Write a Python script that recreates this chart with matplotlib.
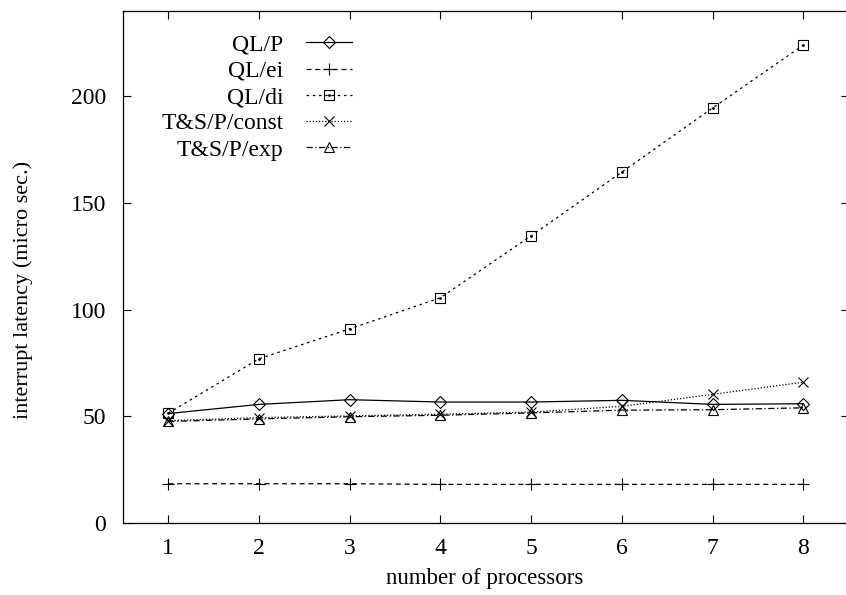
import matplotlib
matplotlib.use("Agg")
import matplotlib.pyplot as plt

plt.rcParams['font.family'] = ['Liberation Serif', 'DejaVu Serif']

procs = [1, 2, 3, 4, 5, 6, 7, 8]
ql_p = [51.3, 55.6, 57.8, 56.7, 56.7, 57.5, 55.6, 55.9]
ql_ei = [18.4, 18.4, 18.4, 18.1, 18.1, 18.1, 18.1, 18.1]
ql_di = [51.5, 77.0, 91.0, 105.6, 134.6, 164.5, 194.5, 224.0]
ts_const = [48.0, 49.4, 50.2, 51.0, 52.0, 54.7, 60.3, 66.0]
ts_exp = [47.6, 48.8, 49.8, 50.5, 51.6, 52.9, 53.1, 54.0]

series = [
    ("QL/P", ql_p, '-', 'D', 6),
    ("QL/ei", ql_ei, (0, (4, 3)), '+', 9),
    ("QL/di", ql_di, (0, (2, 3)), 's', 7.5),
    ("T&S/P/const", ts_const, (0, (1, 1.5)), 'x', 7.5),
    ("T&S/P/exp", ts_exp, (0, (5, 2, 1, 2)), '^', 7),
]

fig = plt.figure(figsize=(8.46, 5.95), dpi=100)
# the frame runs past the right edge of the figure
ax_w = 725.6
ax_h = 512
ax = fig.add_axes([123 / 846, 72 / 595, ax_w / 846, ax_h / 595])

handles = []
for name, vals, ls, mk, ms in series:
    line, = ax.plot(procs, vals, color='black', lw=0.9, linestyle=ls,
                    marker=mk, markersize=ms, markerfacecolor='none',
                    markeredgecolor='black', markeredgewidth=0.8)
    if mk == 's':
        # gnuplot style box with a dot in the middle
        dot, = ax.plot(procs, vals, linestyle='none', marker='.',
                       markersize=2, color='black')
        handles.append(((line, dot), name))
    else:
        handles.append((line, name))

ax.set_xlim(0.5, 8.5)
ax.set_ylim(0, 240)
ax.set_xticks(procs)
ax.set_yticks([0, 50, 100, 150, 200])
ax.tick_params(direction='in', length=6, width=0.8, top=True, right=True,
               labelsize=17)
ax.tick_params(axis='x', pad=11)
ax.tick_params(axis='y', pad=12)
for sp in ax.spines.values():
    sp.set_linewidth(0.9)

ax.set_xlabel("number of processors", fontsize=16.5)
ax.set_ylabel("interrupt latency (micro sec.)", fontsize=16)
# centre the x label under the visible part of the frame
ax.xaxis.set_label_coords((846 - 123) / 2 / ax_w, -45 / ax_h)
ax.yaxis.set_label_coords(-90 / ax_w, (523 - 290) / ax_h)

ax.legend([h for h, _ in handles], [n for _, n in handles],
          loc='upper right', bbox_to_anchor=(352 / 846, 1 - 34 / 595),
          bbox_transform=fig.transFigure, frameon=False, markerfirst=False,
          handlelength=1.95, handletextpad=0.95, labelspacing=0.2,
          borderpad=0, borderaxespad=0, fontsize=17)

fig.savefig("out.png", dpi=100)
